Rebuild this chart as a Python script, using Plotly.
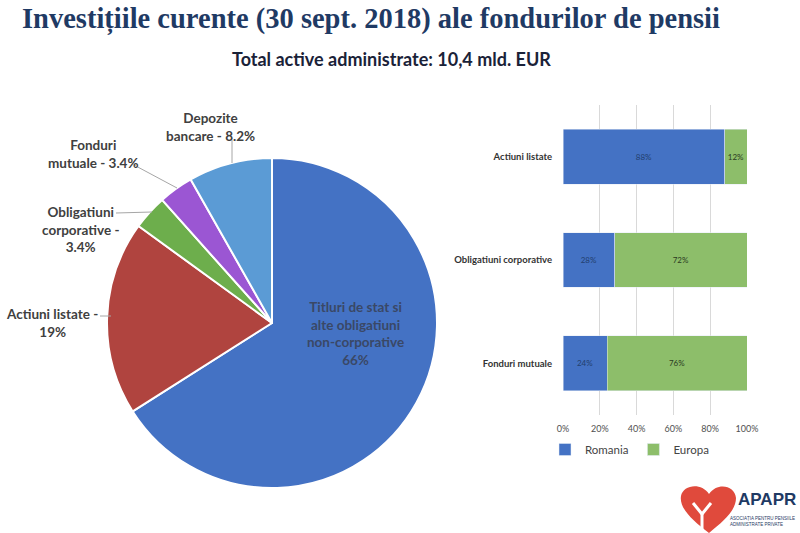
import plotly.graph_objects as go

# ---------------- data ----------------
pie_labels = ["Titluri de stat si alte obligatiuni non-corporative", "Actiuni listate",
              "Obligatiuni corporative", "Fonduri mutuale", "Depozite bancare"]
pie_values = [66, 19, 3.4, 3.4, 8.2]
pie_colors = ["#4472C4", "#B0443F", "#6DAE4C", "#9B56D3", "#5B9BD5"]

bar_categories = ["Actiuni listate", "Obligatiuni corporative", "Fonduri mutuale"]
romania = [88, 28, 24]
europa = [12, 72, 76]
x_ticks = [0, 20, 40, 60, 80, 100]

W, H = 800, 533


def px(x, y):
    return x / W, 1 - y / H


fig = go.Figure()

fig.add_trace(go.Pie(
    labels=pie_labels, values=pie_values, sort=False, direction="clockwise", rotation=0,
    marker=dict(colors=pie_colors, line=dict(color="white", width=2)),
    textinfo="none", showlegend=False, hoverinfo="label+percent",
    domain=dict(x=[107 / W, 437 / W], y=[1 - 488 / H, 1 - 158 / H]),
))

fig.add_trace(go.Bar(
    y=bar_categories, x=romania, name="Romania", orientation="h",
    marker=dict(color="#4472C4"), xaxis="x", yaxis="y",
    text=[f"{v}%" for v in romania], textposition="inside", insidetextanchor="middle",
    textangle=0, constraintext="none",
    textfont=dict(size=8, color="#23406e", family="Lato"),
))
fig.add_trace(go.Bar(
    y=bar_categories, x=europa, name="Europa", orientation="h",
    marker=dict(color="#8DBE6A"), xaxis="x", yaxis="y",
    text=[f"{v}%" for v in europa], textposition="inside", insidetextanchor="middle",
    textangle=0, constraintext="none",
    textfont=dict(size=8, color="#2b3b22", family="Lato"),
))


def note(text, x, y, size, color, family="Lato", xanchor="center", align="center"):
    ax_, ay_ = px(x, y)
    return dict(x=ax_, y=ay_, xref="paper", yref="paper", showarrow=False,
                xanchor=xanchor, yanchor="middle", align=align, text=text,
                font=dict(family=family, size=size, color=color))


annotations = [
    note("<b>Investițiile curente (30 sept. 2018) ale fondurilor de pensii</b>", 371, 19,
         28.5, "#1F3A64", family="Liberation Serif"),
    note("<b>Total active administrate: 10,4 mld. EUR</b>", 391, 59, 18, "#1a2238"),
]

pie_label_specs = [
    ("Depozite<br>bancare - 8.2%", 210, 127),
    ("Fonduri<br>mutuale - 3.4%", 93, 154),
    ("Obligatiuni<br>corporative -<br>3.4%", 80, 230),
    ("Actiuni listate -<br>19%", 52, 323),
]
for txt, x, y in pie_label_specs:
    annotations.append(note(f"<b>{txt}</b>", x, y, 13.5, "#404040"))

annotations.append(note("<b>Titluri de stat si<br>alte obligatiuni<br>non-corporative<br>66%</b>",
                        355, 333, 13.5, "#3a4866"))

# logo text
annotations.append(note("<b>APAPR</b>", 736, 499, 17, "#1F3A64", family="Liberation Sans",
                        xanchor="left"))
annotations.append(note("ASOCIAȚIA PENTRU PENSIILE<br>ADMINISTRATE PRIVATE", 797, 521, 4.5,
                        "#1F3A64", family="Liberation Sans", xanchor="right", align="left"))

shapes = []
leaders = [((232, 140), (232, 163)), ((134, 165), (177, 188)),
           ((116, 213), (152, 212)), ((100, 316), (111, 316))]
for (x0, y0), (x1, y1) in leaders:
    a0, b0 = px(x0, y0)
    a1, b1 = px(x1, y1)
    shapes.append(dict(type="line", xref="paper", yref="paper", x0=a0, y0=b0, x1=a1, y1=b1,
                       line=dict(color="#a6a6a6", width=1)))


def path_from(points):
    s = ""
    for cmd, pts in points:
        coords = " ".join(f"{px(x, y)[0]:.5f},{px(x, y)[1]:.5f}" for x, y in pts)
        s += f"{cmd} {coords} "
    return s + "Z"


heart = path_from([
    ("M", [(709, 533)]),
    ("C", [(692, 520), (679, 508), (681, 496)]),
    ("C", [(683, 485), (701, 482), (709, 494)]),
    ("C", [(717, 482), (735, 485), (736, 498)]),
    ("C", [(736, 510), (725, 520), (709, 533)]),
])
shapes.append(dict(type="path", xref="paper", yref="paper", path=heart,
                   fillcolor="#E04A3C", line=dict(width=0)))
for (x0, y0), (x1, y1) in [((702, 533), (702, 512)), ((702, 514), (693, 503)),
                           ((702, 514), (711, 503))]:
    a0, b0 = px(x0, y0)
    a1, b1 = px(x1, y1)
    shapes.append(dict(type="line", xref="paper", yref="paper", x0=a0, y0=b0, x1=a1, y1=b1,
                       line=dict(color="white", width=3)))

lgx, lgy = px(545, 435)
fig.update_layout(
    width=W, height=H, margin=dict(l=0, r=0, t=0, b=0, autoexpand=False),
    paper_bgcolor="white", plot_bgcolor="white",
    barmode="stack", bargap=0.47,
    annotations=annotations, shapes=shapes,
    xaxis=dict(domain=[563 / W, 747 / W], range=[0, 100], tickvals=x_ticks,
               ticktext=[f"{v}%" for v in x_ticks], showgrid=True, gridcolor="#d9d9d9",
               gridwidth=1, zeroline=False, showline=False, ticks="", automargin=False,
               ticklabelstandoff=7,
               tickfont=dict(family="Lato", size=9, color="#505050"), anchor="y"),
    yaxis=dict(domain=[1 - 415 / H, 1 - 105 / H], autorange="reversed", automargin=False,
               showgrid=False, showline=False, ticks="", anchor="x", ticklabelstandoff=10,
               tickfont=dict(family="Lato", size=9.5, color="#333333", weight="bold")),
    legend=dict(orientation="h", x=lgx, y=lgy, xanchor="left", yanchor="top",
                font=dict(family="Lato", size=11.5, color="#444444"),
                itemwidth=30, traceorder="normal", itemclick=False),
    font=dict(family="Lato"),
)

fig.write_html("out.html")
